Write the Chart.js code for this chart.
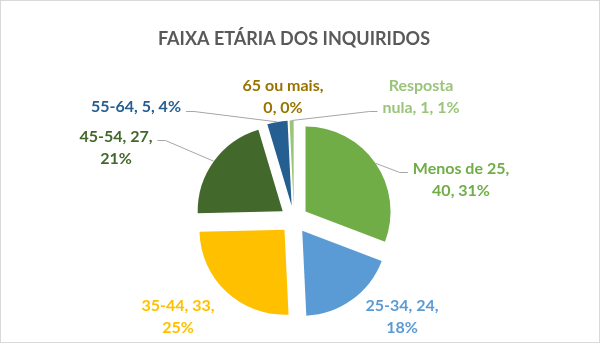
<!DOCTYPE html>
<html>
<head>
<meta charset="utf-8">
<script src="https://cdn.jsdelivr.net/npm/chart.js@4.4.1/dist/chart.umd.min.js"></script>
<style>
  html, body { margin: 0; padding: 0; background: #fff; }
  .frame { width: 600px; height: 343px; box-sizing: border-box; border: 1px solid #d9d9d9; }
  canvas { display: block; }
</style>
</head>
<body>
<div class="frame"><canvas id="ageChart" width="598" height="341"></canvas></div>
<script>
const ageGroups = ['Menos de 25', '25-34', '35-44', '45-54', '55-64', '65 ou mais', 'Resposta nula'];
const respondents = [40, 24, 33, 27, 5, 0, 1];
const sliceColors = ['#70AD47', '#5B9BD5', '#FFC000', '#43682B', '#255E91', '#997300', '#9BC47B'];

// where each label sits relative to the pie centre, how many words go on
// the first line, and which side a leader line leaves from (if any)
const labelLayout = [
  { dx: 167, dy: -40, brk: 3, lead: 'left', ly: -7 },
  { dx: 108, dy: 97, brk: 2 },
  { dx: -116, dy: 97, brk: 2 },
  { dx: -178, dy: -72, brk: 2, lead: 'right', ly: -7 },
  { dx: -158, dy: -113, brk: 0, lead: 'right', ly: 5 },
  { dx: -11, dy: -123, brk: 3 },
  { dx: 127, dy: -123, brk: 1, lead: 'left', ly: 15 }
];

const EXPLODE = 14;
const LINE_H = 22;
const FONT = 'Lato, "Open Sans", sans-serif';

// pull every slice out from the centre by the same distance
const explodedSlices = {
  id: 'explodedSlices',
  beforeDatasetDraw(chart, args) {
    const ctx = chart.ctx;
    args.meta.data.forEach(arc => {
      const { startAngle, endAngle } = arc.getProps(['startAngle', 'endAngle']);
      const mid = (startAngle + endAngle) / 2;
      ctx.save();
      ctx.translate(Math.cos(mid) * EXPLODE, Math.sin(mid) * EXPLODE);
      arc.draw(ctx);
      ctx.restore();
    });
    return false;
  }
};

// "name, value, pct%" labels with leader lines back to the slices
const sliceLabels = {
  id: 'sliceLabels',
  afterDatasetsDraw(chart) {
    const ctx = chart.ctx;
    const meta = chart.getDatasetMeta(0);
    const total = respondents.reduce((a, b) => a + b, 0);
    ctx.save();
    ctx.font = 'bold 16px ' + FONT;
    ctx.textAlign = 'center';
    ctx.textBaseline = 'middle';
    meta.data.forEach((arc, i) => {
      const lay = labelLayout[i];
      const { x, y, startAngle, endAngle, outerRadius } =
        arc.getProps(['x', 'y', 'startAngle', 'endAngle', 'outerRadius']);
      const pct = Math.round(respondents[i] / total * 100);
      const words = `${ageGroups[i]}, ${respondents[i]}, ${pct}%`.split(' ');
      const lines = lay.brk
        ? [words.slice(0, lay.brk).join(' '), words.slice(lay.brk).join(' ')]
        : [words.join(' ')];
      const cx = x + lay.dx;
      const cy = y + lay.dy;
      const top = cy - (lines.length - 1) * LINE_H / 2;

      if (lay.lead) {
        const w = Math.max(...lines.map(t => ctx.measureText(t).width));
        const dir = lay.lead === 'left' ? -1 : 1;
        const sx = cx + dir * (w / 2 + 5);
        const sy = cy + lay.ly;
        const mid = (startAngle + endAngle) / 2;
        const ex = x + Math.cos(mid) * (outerRadius + EXPLODE);
        const ey = y + Math.sin(mid) * (outerRadius + EXPLODE);
        ctx.strokeStyle = '#A6A6A6';
        ctx.lineWidth = 1;
        ctx.beginPath();
        ctx.moveTo(sx, sy);
        ctx.lineTo(sx + dir * 8, sy);
        ctx.lineTo(ex, ey);
        ctx.stroke();
      }

      ctx.fillStyle = sliceColors[i];
      lines.forEach((t, k) => ctx.fillText(t, cx, top + k * LINE_H));
    });
    ctx.restore();
  }
};

new Chart(document.getElementById('ageChart'), {
  type: 'pie',
  data: {
    labels: ageGroups,
    datasets: [{
      data: respondents,
      backgroundColor: sliceColors,
      borderWidth: 0
    }]
  },
  options: {
    responsive: false,
    animation: false,
    radius: 85,
    layout: {
      padding: { left: 0, right: 12, top: 0, bottom: 24 }
    },
    plugins: {
      legend: { display: false },
      tooltip: { enabled: false },
      title: {
        display: true,
        text: 'FAIXA ETÁRIA DOS INQUIRIDOS',
        color: '#595959',
        font: { family: FONT, size: 18, weight: 'bold' },
        padding: { top: 27, bottom: 71.4 }
      }
    }
  },
  plugins: [explodedSlices, sliceLabels]
});
</script>
</body>
</html>
